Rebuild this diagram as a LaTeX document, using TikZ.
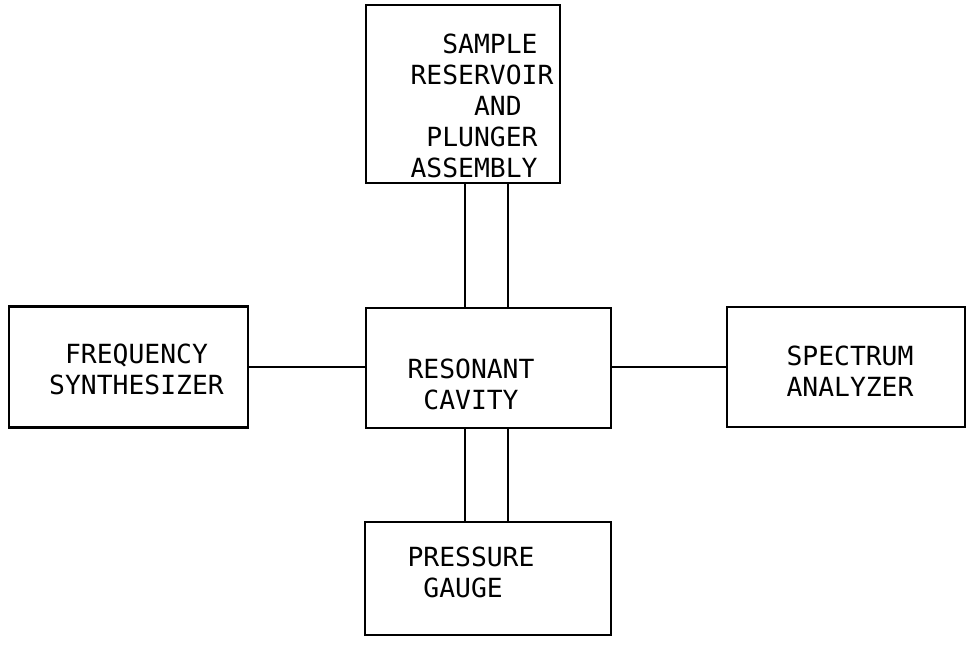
\documentclass[tikz,border=0pt]{standalone}
\usepackage{fontspec}
\newfontfamily\plotfont{DejaVu Sans Mono}
\usetikzlibrary{positioning,calc}
\tikzset{
  unitbox/.style ={draw,line width=1.5pt,inner sep=0pt},
  lbl/.style     ={font={\plotfont\fontsize{15pt}{17.6pt}\selectfont},
                   align=center,inner sep=0pt},
  link/.style    ={line width=1.2pt},
}

\begin{document}
\begin{tikzpicture}[x=0.02cm,y=-0.02cm]
\useasboundingbox (0,0) rectangle (969,646);

% --- units -----------------------------------------------------------------
\node[unitbox,minimum width=3.88cm,minimum height=3.56cm] (res) at (463,94) {};
\node[unitbox,minimum width=4.90cm,minimum height=2.40cm] (cav) at (488.5,368) {};
\node[unitbox,minimum width=4.78cm,minimum height=2.42cm] (syn) at (128.5,367) {};
\node[unitbox,minimum width=4.76cm,minimum height=2.40cm] (ana) at (846,367) {};
\node[unitbox,minimum width=4.92cm,minimum height=2.26cm] (gau) at (488,578.5) {};

% --- labels ----------------------------------------------------------------
\node[lbl,align=left] (resl) at (482,106)
  {\phantom{X}\phantom{X}SAMPLE\\ RESERVOIR\\ \phantom{XXXX}AND\\
   \phantom{X}PLUNGER\\ ASSEMBLY};
\node[lbl] (cavl) at (471,384) {RESONANT\\ CAVITY};
\node[lbl] (synl) at (136.5,369) {FREQUENCY\\ SYNTHESIZER};
\node[lbl] (anal) at (850,371) {SPECTRUM\\ ANALYZER};
\node[lbl,align=left] (gaul) at (471,572) {PRESSURE\\ \phantom{X}GAUGE};

% --- connections -----------------------------------------------------------
\coordinate (pa) at (465,0);
\coordinate (pb) at (508,0);
\draw[link] (res.south -| pa) -- (cav.north -| pa);
\draw[link] (res.south -| pb) -- (cav.north -| pb);
\draw[link] (cav.south -| pa) -- (gau.north -| pa);
\draw[link] (cav.south -| pb) -- (gau.north -| pb);
\draw[link] (syn.east) -- (cav.west |- syn.east);
\draw[link] (cav.east |- ana.west) -- (ana.west);

\end{tikzpicture}
\end{document}
